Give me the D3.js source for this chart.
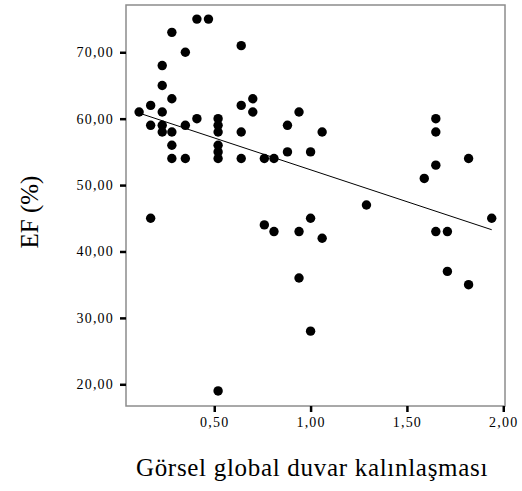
<!DOCTYPE html>
<html>
<head>
<meta charset="utf-8">
<script src="https://cdn.jsdelivr.net/npm/d3@7"></script>
<style>
  body { margin: 0; background: #fff; }
  text { font-family: "Liberation Serif", "Times New Roman", serif; fill: #000; }
</style>
</head>
<body>
<div class="chart"></div>
<script>
// Görsel global duvar kalınlaşması (x) vs EF % (y)
const wallThickness = [
  0.11, 0.17, 0.23, 0.23, 0.28, 0.35, 0.41, 0.47, 0.64, 0.28,
  0.23, 0.17, 0.23, 0.23, 0.28, 0.28, 0.28, 0.35, 0.35, 0.41,
  0.52, 0.52, 0.52, 0.52, 0.52, 0.52, 0.64, 0.64, 0.64, 0.70,
  0.70, 0.76, 0.81, 0.88, 0.88, 0.94, 1.00, 1.06, 1.29, 1.59,
  1.65, 1.65, 1.65, 1.82, 0.17, 0.52, 0.76, 0.81, 0.94, 1.00,
  1.06, 0.94, 1.00, 1.65, 1.71, 1.71, 1.82, 1.94
];
const ejectionFraction = [
  61, 62, 68, 65, 73, 70, 75, 75, 71, 63,
  61, 59, 59, 58, 58, 56, 54, 54, 59, 60,
  60, 59, 58, 56, 55, 54, 62, 58, 54, 63,
  61, 54, 54, 59, 55, 61, 55, 58, 47, 51,
  60, 58, 53, 54, 45, 19, 44, 43, 43, 45,
  42, 36, 28, 43, 43, 37, 35, 45
];
const xTicks = [0.5, 1.0, 1.5, 2.0];
const yTicks = [20, 30, 40, 50, 60, 70];
// fit line as drawn in the source (EF = a + b * x)
const fitIntercept = 61.9;
const fitSlope = -9.6;

const width = 522, height = 491;
const margin = {top: 5, right: 17, bottom: 85, left: 126};

const svg = d3.select('.chart').append('svg')
  .attr('width', width)
  .attr('height', height);

const xScale = d3.scaleLinear().domain([0.042, 2.009]).range([margin.left, width - margin.right]);
const yScale = d3.scaleLinear().domain([16.73, 77.12]).range([height - margin.bottom, margin.top]);

const fmt = v => d3.format('.2f')(v).replace('.', ',');

// frame
svg.append('rect')
  .attr('x', margin.left)
  .attr('y', margin.top)
  .attr('width', width - margin.left - margin.right)
  .attr('height', height - margin.top - margin.bottom)
  .attr('fill', 'none')
  .attr('stroke', '#8c8c8c')
  .attr('stroke-width', 1.5);

const xAxis = d3.axisBottom(xScale).tickValues(xTicks).tickFormat(fmt).tickSize(6).tickPadding(5);
const yAxis = d3.axisLeft(yScale).tickValues(yTicks).tickFormat(fmt).tickSize(6).tickPadding(6);

const gx = svg.append('g').attr('transform', 'translate(0,' + (height - margin.bottom) + ')').call(xAxis);
const gy = svg.append('g').attr('transform', 'translate(' + margin.left + ',0)').call(yAxis);
[gx, gy].forEach(g => {
  g.select('.domain').remove();
  g.selectAll('.tick line').attr('stroke', '#000').attr('stroke-width', 2.5);
  g.selectAll('.tick text')
    .style('font-family', '"Liberation Serif", serif')
    .style('font-size', '14px')
    .style('letter-spacing', '1.2px');
});

// regression line
const xMin = d3.min(wallThickness), xMax = d3.max(wallThickness);
svg.append('line')
  .attr('x1', xScale(xMin)).attr('y1', yScale(fitIntercept + fitSlope * xMin))
  .attr('x2', xScale(xMax)).attr('y2', yScale(fitIntercept + fitSlope * xMax))
  .attr('stroke', '#000')
  .attr('stroke-width', 1);

// points
const pts = wallThickness.map((d, i) => ({x: d, y: ejectionFraction[i]}));
svg.selectAll('.dot')
  .data(pts)
  .enter()
  .append('circle')
  .attr('class', 'dot')
  .attr('cx', d => xScale(d.x))
  .attr('cy', d => yScale(d.y))
  .attr('r', 4.7)
  .attr('fill', '#000');

// axis titles
svg.append('text')
  .attr('x', 312)
  .attr('y', 476)
  .attr('text-anchor', 'middle')
  .style('font-size', '25px')
  .style('letter-spacing', '0.7px')
  .text('Görsel global duvar kalınlaşması');

svg.append('text')
  .attr('transform', 'translate(38,212) rotate(-90)')
  .attr('text-anchor', 'middle')
  .style('font-size', '25px')
  .text('EF (%)');
</script>
</body>
</html>
